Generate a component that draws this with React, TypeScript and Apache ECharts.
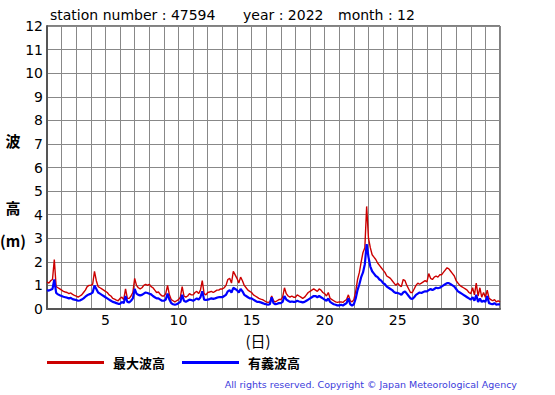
import React, { useEffect, useRef } from "react";
import * as echarts from "echarts";

// 3-hourly readings (00,03,06,...,21h) for each day of December 2022, then Jan 1 00h
const maxWave: number[] = [
  1.15, 1.1, 1.2, 1.25, 2.1, 0.95, 0.9, 0.85,
  0.8, 0.75, 0.72, 0.7, 0.65, 0.68, 0.62, 0.58,
  0.55, 0.5, 0.55, 0.6, 0.7, 0.8, 0.95, 1.0,
  1.0, 1.05, 1.6, 1.2, 0.95, 0.9, 0.85, 0.8,
  0.75, 0.7, 0.6, 0.55, 0.45, 0.42, 0.38, 0.35,
  0.45, 0.5, 0.4, 0.85, 0.45, 0.45, 0.55, 0.7,
  1.3, 1.0, 0.9, 0.85, 0.9, 1.0, 1.05, 1.0,
  1.05, 0.95, 0.9, 0.8, 0.7, 0.72, 0.62, 0.55,
  0.55, 0.65, 1.0, 0.6, 0.4, 0.35, 0.3, 0.35,
  0.4, 0.5, 0.95, 0.55, 0.5, 0.55, 0.65, 0.6,
  0.6, 0.7, 0.75, 0.65, 0.8, 1.2, 0.65, 0.6,
  0.7, 0.72, 0.75, 0.7, 0.75, 0.8, 0.8, 0.85,
  0.85, 0.9, 1.0, 1.25, 1.3, 1.1, 1.6, 1.45,
  1.3, 1.1, 1.35, 1.2, 1.0, 0.9, 0.8, 0.75,
  0.7, 0.6, 0.55, 0.5, 0.45, 0.42, 0.4, 0.35,
  0.3, 0.28, 0.3, 0.55, 0.35, 0.3, 0.35, 0.4,
  0.4, 0.5, 0.9, 0.65, 0.55, 0.5, 0.55, 0.5,
  0.5, 0.6, 0.55, 0.5, 0.45, 0.5, 0.6, 0.7,
  0.75, 0.8, 0.85, 0.8, 0.75, 0.85, 0.8, 0.7,
  0.65, 0.55, 0.7, 0.45, 0.4, 0.35, 0.3, 0.28,
  0.3, 0.3, 0.28, 0.35, 0.4, 0.6, 0.35, 0.3,
  0.4, 0.75, 1.25, 1.55, 2.0, 2.4, 2.6, 4.35,
  3.0, 2.6, 2.3, 2.2, 2.1, 1.95, 1.85, 1.75,
  1.65, 1.55, 1.4, 1.35, 1.3, 1.2, 1.1, 1.0,
  1.1, 1.0, 0.95, 1.25, 1.2, 1.0, 0.85, 0.7,
  0.7, 0.85, 1.0, 1.1, 1.05, 1.1, 1.15, 1.2,
  1.15, 1.5, 1.3, 1.25, 1.35, 1.4, 1.35, 1.45,
  1.45, 1.55, 1.65, 1.75, 1.7, 1.6, 1.5, 1.4,
  1.2, 1.1, 1.0, 0.95, 0.9, 0.85, 0.8, 0.7,
  0.65, 0.9, 0.6, 1.1, 0.55, 0.9, 0.5, 0.7,
  0.5, 0.8, 0.45, 0.4, 0.35, 0.4, 0.3, 0.35,
  0.3,
];

const sigWave: number[] = [
  0.8, 0.78, 0.82, 0.85, 1.25, 0.68, 0.62, 0.58,
  0.55, 0.52, 0.5, 0.48, 0.45, 0.47, 0.42, 0.4,
  0.38, 0.35, 0.36, 0.4, 0.45, 0.52, 0.58, 0.62,
  0.65, 0.7, 1.0, 0.85, 0.7, 0.65, 0.6, 0.55,
  0.5, 0.45, 0.4, 0.35, 0.3, 0.28, 0.25, 0.22,
  0.22, 0.3, 0.25, 0.55, 0.3, 0.28, 0.35, 0.45,
  0.85, 0.65, 0.6, 0.58, 0.6, 0.65, 0.7, 0.68,
  0.65, 0.62, 0.55, 0.5, 0.45, 0.45, 0.4, 0.35,
  0.35, 0.4, 0.65, 0.4, 0.25, 0.2, 0.18, 0.2,
  0.25, 0.3, 0.6, 0.35, 0.3, 0.35, 0.4, 0.38,
  0.35, 0.4, 0.45, 0.4, 0.5, 0.75, 0.4, 0.38,
  0.4, 0.42, 0.45, 0.43, 0.45, 0.48, 0.5, 0.5,
  0.5, 0.55, 0.6, 0.75, 0.8, 0.7, 0.9, 0.85,
  0.8, 0.7, 0.85, 0.75, 0.6, 0.55, 0.5, 0.45,
  0.45, 0.4, 0.35, 0.3, 0.3, 0.28, 0.25, 0.22,
  0.2, 0.18, 0.2, 0.5, 0.25, 0.2, 0.22, 0.25,
  0.25, 0.3, 0.55, 0.4, 0.35, 0.3, 0.32, 0.3,
  0.3, 0.35, 0.32, 0.3, 0.28, 0.3, 0.35, 0.4,
  0.45, 0.5, 0.55, 0.55, 0.5, 0.55, 0.5, 0.45,
  0.4, 0.35, 0.45, 0.3, 0.25, 0.2, 0.18, 0.15,
  0.15, 0.18, 0.15, 0.2, 0.25, 0.45, 0.2, 0.15,
  0.2, 0.45, 0.8, 1.05, 1.35, 1.55, 1.9, 2.75,
  2.2, 1.8, 1.6, 1.5, 1.4, 1.35, 1.25, 1.2,
  1.1, 1.05, 0.95, 0.9, 0.85, 0.8, 0.72, 0.68,
  0.68, 0.65, 0.6, 0.7, 0.75, 0.65, 0.55, 0.45,
  0.42, 0.5, 0.6, 0.65, 0.7, 0.68, 0.72, 0.75,
  0.75, 0.8, 0.85, 0.8, 0.85, 0.9, 0.88, 0.9,
  0.95, 1.0, 1.05, 1.1, 1.1, 1.05, 1.0, 0.95,
  0.85, 0.75, 0.7, 0.65, 0.6, 0.55, 0.5, 0.45,
  0.4, 0.5, 0.35, 0.6, 0.3, 0.45, 0.3, 0.35,
  0.3, 0.55, 0.25, 0.22, 0.2, 0.25, 0.18, 0.2,
  0.2,
];

const yTicks: number[] = [0, 1, 2, 3, 4, 5, 6, 7, 8, 9, 10, 11, 12];
const xLabelDays: number[] = [5, 10, 15, 20, 25, 30];
const seriesNames: string[] = ["最大波高", "有義波高"];
const titleParts: string[] = ["station number : 47594", "year : 2022", "month : 12"];

const FONT = "'DejaVu Sans', Verdana, sans-serif";
const JFONT = "'Noto Sans CJK JP', sans-serif";

export default function App() {
  const ref = useRef<HTMLDivElement>(null);
  useEffect(() => {
    if (!ref.current) return;
    const chart = echarts.init(ref.current, undefined, { renderer: "svg" });
    const toPairs = (arr: number[]) => arr.map((v, i) => [1 + i / 8, v]);
    chart.setOption({
      animation: false,
      backgroundColor: "#fff",
      grid: {
        left: 47,
        top: 26,
        right: 55,
        bottom: 86,
        show: true,
        borderColor: "#000",
        borderWidth: 1,
      },
      legend: {
        left: 42,
        top: 351,
        itemWidth: 57,
        itemHeight: 3,
        itemGap: 17,
        icon: "rect",
        data: seriesNames,
        textStyle: {
          fontFamily: JFONT,
          fontWeight: "bold",
          fontSize: 13,
          color: "#000",
          padding: [0, 0, 0, 4],
        },
      },
      xAxis: {
        type: "value",
        min: 1,
        max: 32,
        interval: 1,
        axisLine: { show: true, onZero: false, lineStyle: { color: "#555", width: 2 } },
        axisTick: { show: false },
        splitLine: { show: true, lineStyle: { color: "#888", width: 1 } },
        axisLabel: {
          margin: 4,
          fontSize: 14,
          fontFamily: FONT,
          color: "#000",
          formatter: (v: number) => (xLabelDays.includes(v) ? String(v) : ""),
        },
      },
      yAxis: {
        type: "value",
        min: yTicks[0],
        max: yTicks[yTicks.length - 1],
        interval: 1,
        axisLine: { show: true, lineStyle: { color: "#555", width: 2 } },
        axisTick: { show: false },
        splitLine: { show: true, lineStyle: { color: "#888", width: 1 } },
        axisLabel: { margin: 4, fontSize: 14, fontFamily: FONT, color: "#000" },
      },
      series: [
        {
          name: seriesNames[0],
          type: "line",
          data: toPairs(maxWave),
          showSymbol: false,
          symbol: "none",
          color: "#cc0000",
          lineStyle: { color: "#cc0000", width: 1.4 },
        },
        {
          name: seriesNames[1],
          type: "line",
          data: toPairs(sigWave),
          showSymbol: false,
          symbol: "none",
          color: "#0000ff",
          lineStyle: { color: "#0000ff", width: 2.2 },
        },
      ],
      graphic: [
        { type: "text", x: 50, y: 15, style: { text: titleParts[0], fontSize: 14, fontFamily: FONT, fill: "#000", verticalAlign: "middle" } },
        { type: "text", x: 243, y: 15, style: { text: titleParts[1], fontSize: 14, fontFamily: FONT, fill: "#000", verticalAlign: "middle" } },
        { type: "text", x: 338, y: 15, style: { text: titleParts[2], fontSize: 14, fontFamily: FONT, fill: "#000", verticalAlign: "middle" } },
        { type: "text", x: 13, y: 140, style: { text: "波", fontSize: 15, fontWeight: "bold", fontFamily: JFONT, fill: "#000", align: "center", verticalAlign: "middle" } },
        { type: "text", x: 13, y: 207, style: { text: "高", fontSize: 15, fontWeight: "bold", fontFamily: JFONT, fill: "#000", align: "center", verticalAlign: "middle" } },
        { type: "text", x: 13, y: 240, style: { text: "(m)", fontSize: 15, fontWeight: "bold", fontFamily: JFONT, fill: "#000", align: "center", verticalAlign: "middle" } },
        { type: "text", x: 258, y: 340, style: { text: "(日)", fontSize: 15, fontFamily: JFONT, fill: "#000", align: "center", verticalAlign: "middle" } },
        { type: "text", x: 517, y: 384, style: { text: "All rights reserved. Copyright © Japan Meteorological Agency", fontSize: 9.5, fontFamily: FONT, fill: "#3c3cdc", align: "right", verticalAlign: "middle" } },
      ],
    });
    return () => chart.dispose();
  }, []);
  return <div ref={ref} style={{ width: 555, height: 395, position: "absolute", left: 0, top: 0 }} />;
}
